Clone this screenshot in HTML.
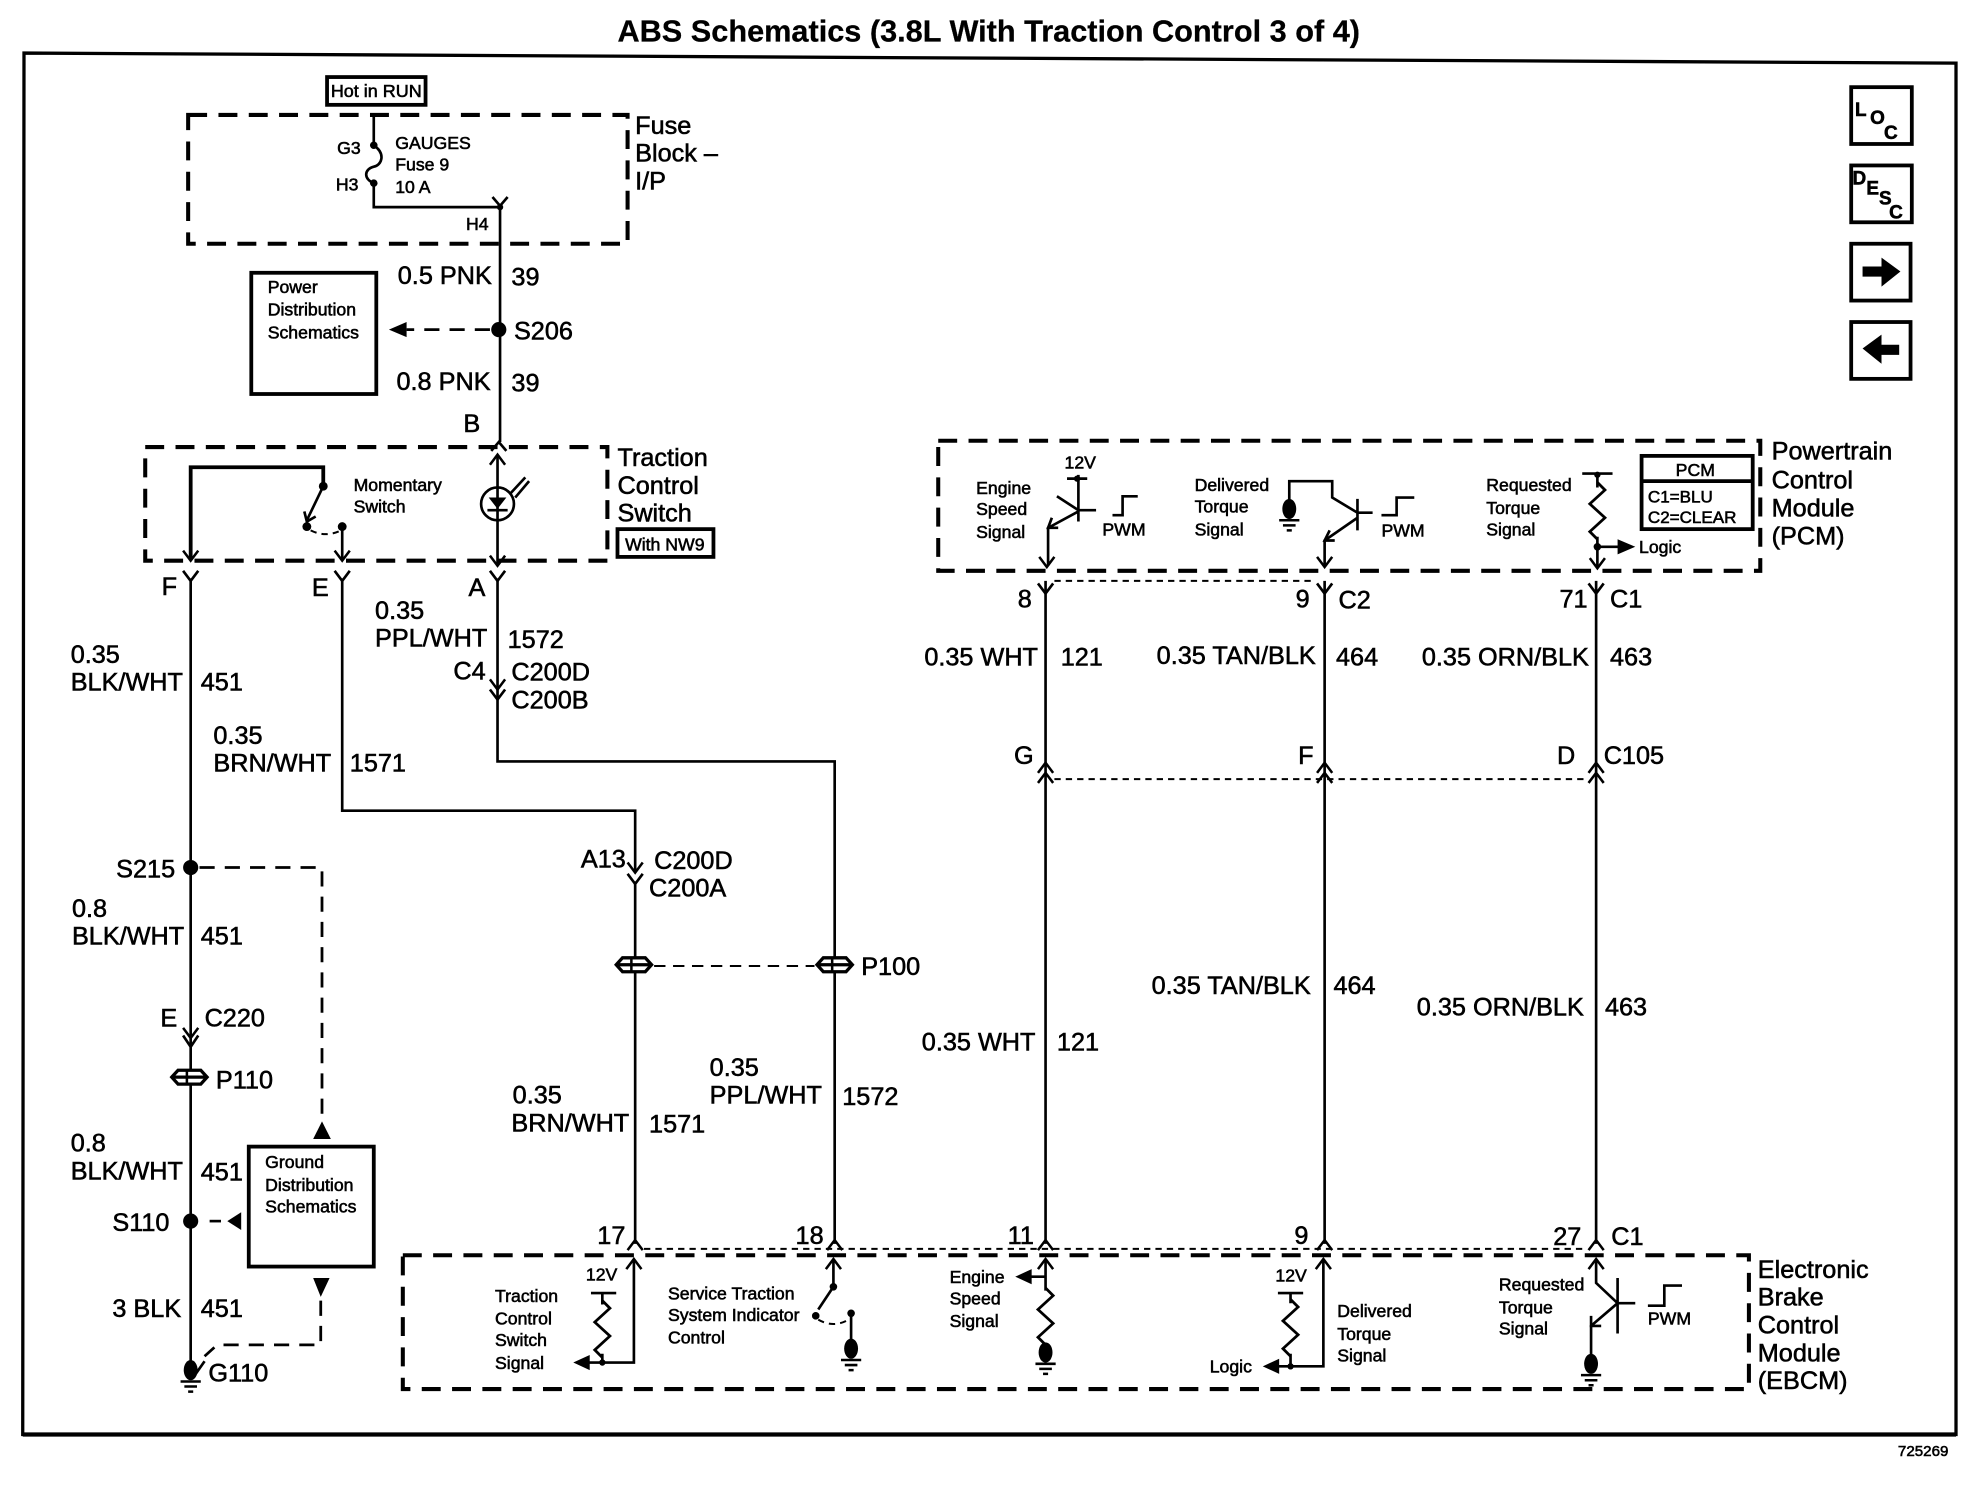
<!DOCTYPE html>
<html><head><meta charset="utf-8"><title>ABS Schematics</title>
<style>
html,body{margin:0;padding:0;background:#fff}
svg{display:block}
text{font-family:"Liberation Sans",sans-serif;fill:#000;stroke:#000;stroke-width:.45}
.l{font-size:20px}
.s{font-size:14px}
.t{font-size:24px;font-weight:bold;stroke-width:.2}
.b{font-size:15px;font-weight:bold}
.w{fill:none;stroke:#000;stroke-width:2.1}
.k{fill:none;stroke:#000;stroke-width:3}
.d{fill:none;stroke:#000;stroke-width:3.2;stroke-dasharray:15 9}
.d2{fill:none;stroke:#000;stroke-width:2.2;stroke-dasharray:12 8}
.f{fill:none;stroke:#000;stroke-width:1.6;stroke-dasharray:5 4}
.fill{fill:#000;stroke:none}
</style></head><body>
<svg xmlns="http://www.w3.org/2000/svg" width="1980" height="1504" viewBox="0 0 1568 1191">
<defs>
<path id="ad" d="M-6,-8L0,0L6,-8" fill="none" stroke="#000" stroke-width="2"/>
<path id="au" d="M-6,8L0,0L6,8" fill="none" stroke="#000" stroke-width="2"/>
<path id="res" d="M0,0L6,6L-6,17L6,28L-6,39L0,45" fill="none" stroke="#000" stroke-width="2.2"/>
<g id="gnd"><ellipse cx="0" cy="0" rx="5.5" ry="8" fill="#000"/><path d="M-8,9H8M-5,13H5M-2,17H2" stroke="#000" stroke-width="2" fill="none"/></g>
<g id="pc"><path d="M-14,0L-9,-5.5H9L14,0L9,5.5H-9Z" fill="#fff" stroke="#000" stroke-width="2.6"/><path d="M-13,0H13" stroke="#000" stroke-width="2.6"/><path d="M-2,-5V5" stroke="#000" stroke-width="2"/></g>
</defs>

<rect width="1568" height="1191" fill="#fff"/>
<text class="t" x="489" y="33" textLength="588" lengthAdjust="spacingAndGlyphs">ABS Schematics (3.8L With Traction Control 3 of 4)</text>
<path d="M19,42L1549,50V1136H18Z" fill="none" stroke="#000" stroke-width="2.6"/>
<path d="M18,1136H1549" stroke="#000" stroke-width="3.4"/>

<!-- nav buttons -->
<rect x="1466" y="69" width="48" height="45" class="k"/>
<text class="b" x="1469" y="92">L</text><text class="b" x="1481" y="98">O</text><text class="b" x="1492" y="110">C</text>
<rect x="1466" y="131" width="48" height="45" class="k"/>
<text class="b" x="1467" y="146">D</text><text class="b" x="1478" y="154">E</text><text class="b" x="1488" y="162">S</text><text class="b" x="1496" y="173">C</text>
<rect x="1466" y="193" width="47" height="45" class="k"/>
<path class="fill" d="M1475,211H1490V204L1505,215L1490,227V219H1475Z"/>
<rect x="1466" y="255" width="47" height="45" class="k"/>
<path class="fill" d="M1475,276L1490,265V273H1504V281H1490V288Z"/>

<!-- fuse block -->
<rect x="259" y="61" width="78" height="22" class="k"/>
<text class="s" x="262" y="77" textLength="72" lengthAdjust="spacingAndGlyphs">Hot in RUN</text>
<rect x="149" y="91" width="348" height="102" class="d"/>
<text class="l" x="503" y="106">Fuse</text><text class="l" x="503" y="128">Block –</text><text class="l" x="503" y="150">I/P</text>
<path class="w" d="M296,91V115C306,122 302,131 296,132C288,134 288,142 296,145V164H396"/>
<circle cx="296" cy="115" r="3"/><circle cx="296" cy="145" r="3"/>
<text class="s" x="267" y="122">G3</text><text class="s" x="266" y="151">H3</text>
<text class="s" x="313" y="118">GAUGES</text><text class="s" x="313" y="135">Fuse 9</text><text class="s" x="313" y="153">10 A</text>
<path class="w" d="M396,164V350"/>
<path class="w" d="M390,156L396,163L402,156"/>
<circle cx="396" cy="164" r="2.5"/>
<text class="s" x="369" y="182">H4</text>
<text class="l" x="315" y="225">0.5 PNK</text><text class="l" x="405" y="226">39</text>
<circle cx="395" cy="261" r="6"/>
<text class="l" x="407" y="269">S206</text>
<path class="d2" d="M388,261H322"/>
<path class="fill" d="M308,261L322,255V267Z"/>
<rect x="199" y="216" width="99" height="96" class="k"/>
<text class="s" x="212" y="232">Power</text><text class="s" x="212" y="250">Distribution</text><text class="s" x="212" y="268">Schematics</text>
<text class="l" x="314" y="309">0.8 PNK</text><text class="l" x="405" y="310">39</text>
<text class="l" x="367" y="342">B</text>
<path class="w" d="M389,357L395,350L401,357"/>

<!-- traction control switch -->
<rect x="115" y="354" width="366" height="90" class="d"/>
<text class="l" x="489" y="369">Traction</text><text class="l" x="489" y="391">Control</text><text class="l" x="489" y="413">Switch</text>
<rect x="489" y="419" width="76" height="22" class="k"/>
<text class="s" x="495" y="436">With NW9</text>
<path class="k" d="M151,443V370H256V385"/>
<use href="#ad" x="151" y="444"/>
<circle cx="256" cy="385" r="3.5"/>
<path class="w" d="M256,385L243,412"/><path class="w" d="M241,405L243,413L250,409"/>
<circle cx="243" cy="417" r="3.5"/><circle cx="271" cy="417" r="3.5"/>
<path class="f" d="M246,420Q258,426 270,420"/>
<path class="w" d="M271,417V443"/><use href="#ad" x="271" y="444"/>
<text class="s" x="280" y="389">Momentary</text><text class="s" x="280" y="406">Switch</text>
<path class="w" d="M394,360V448"/>
<use href="#au" x="394" y="360"/><use href="#ad" x="394" y="448"/>
<circle cx="394" cy="399" r="13" class="w"/>
<path class="fill" d="M387,394H401L394,403Z"/>
<path class="w" d="M386,404H402"/>
<path class="w" d="M404,391L416,378M408,394L419,381"/>

<path class="w" d="M145,452L151,460L157,452M265,452L271,460L277,452M388,452L394,460L400,452"/>
<text class="l" x="128" y="471">F</text><text class="l" x="247" y="472">E</text><text class="l" x="371" y="472">A</text>

<!-- left wire -->
<path class="w" d="M151,458V1085"/>
<text class="l" x="56" y="525">0.35</text><text class="l" x="56" y="547">BLK/WHT</text><text class="l" x="159" y="547">451</text>
<text class="l" x="92" y="695">S215</text>
<circle cx="151" cy="687" r="6"/>
<path class="d2" d="M158,687H255V882"/>
<path class="fill" d="M255,888L262,902H248Z"/>
<text class="l" x="57" y="726">0.8</text><text class="l" x="57" y="748">BLK/WHT</text><text class="l" x="159" y="748">451</text>
<text class="l" x="127" y="813">E</text><text class="l" x="162" y="813">C220</text>
<use href="#ad" x="151" y="822"/>
<path class="w" d="M145,820L151,829L157,820"/>
<use href="#pc" x="150" y="853"/>
<text class="l" x="171" y="862">P110</text>
<text class="l" x="56" y="912">0.8</text><text class="l" x="56" y="934">BLK/WHT</text><text class="l" x="159" y="935">451</text>
<rect x="197" y="908" width="99" height="95" class="k"/>
<text class="s" x="210" y="925">Ground</text><text class="s" x="210" y="943">Distribution</text><text class="s" x="210" y="960">Schematics</text>
<text class="l" x="89" y="975">S110</text>
<circle cx="151" cy="967" r="6"/>
<path class="w" d="M166,967H175"/>
<path class="fill" d="M180,967L191,960V974Z"/>
<text class="l" x="89" y="1043">3 BLK</text><text class="l" x="159" y="1043">451</text>
<path class="fill" d="M248,1012H261L254,1027Z"/>
<path class="d2" d="M254,1030V1065H172L162,1074"/>
<use href="#gnd" x="151" y="1085"/>
<path class="w" d="M155,1088L162,1078"/>
<text class="l" x="165" y="1094">G110</text>

<!-- E wire -->
<path class="w" d="M271,458V642H503V690"/>
<text class="l" x="169" y="589">0.35</text><text class="l" x="169" y="611">BRN/WHT</text><text class="l" x="277" y="611">1571</text>
<!-- A wire -->
<path class="w" d="M394,458V603H661V985"/>
<text class="l" x="297" y="490">0.35</text><text class="l" x="297" y="512">PPL/WHT</text><text class="l" x="402" y="513">1572</text>
<text class="l" x="359" y="538">C4</text><text class="l" x="405" y="539">C200D</text><text class="l" x="405" y="561">C200B</text>
<use href="#ad" x="394" y="546"/>
<path class="w" d="M388,546L394,554L400,546"/>
<text class="l" x="460" y="687">A13</text><text class="l" x="518" y="688">C200D</text><text class="l" x="514" y="710">C200A</text>
<use href="#ad" x="503" y="691"/>
<path class="w" d="M497,692L503,700L509,692"/>
<path class="w" d="M503,698V985"/>
<use href="#pc" x="502" y="764"/><use href="#pc" x="661" y="764"/>
<path class="f" d="M518,765H645" style="stroke-dasharray:9 6"/>
<text class="l" x="682" y="772">P100</text>
<text class="l" x="406" y="874">0.35</text><text class="l" x="405" y="896">BRN/WHT</text><text class="l" x="514" y="897">1571</text>
<text class="l" x="562" y="852">0.35</text><text class="l" x="562" y="874">PPL/WHT</text><text class="l" x="667" y="875">1572</text>

<!-- PCM -->
<rect x="743" y="349" width="651" height="103" class="d"/>
<text class="l" x="1403" y="364">Powertrain</text><text class="l" x="1403" y="387">Control</text><text class="l" x="1403" y="409">Module</text><text class="l" x="1403" y="431">(PCM)</text>
<rect x="1300" y="361" width="88" height="58" class="k"/>
<path class="k" d="M1300,381H1388"/>
<text class="s" x="1327" y="377">PCM</text>
<text class="s" x="1305" y="398" style="font-size:13.5px">C1=BLU</text>
<text class="s" x="1305" y="414" style="font-size:13.5px">C2=CLEAR</text>

<text class="s" x="843" y="371">12V</text>
<path class="w" d="M845,379H861M854,376V413M837,393L854,404H868M854,405L830,418V448"/>
<circle cx="853" cy="379" r="2.5"/>
<path class="w" d="M833,410L830,418L838,418"/>
<use href="#ad" x="829" y="449"/>
<path class="w" d="M881,408H889V393H901"/>
<text class="s" x="873" y="424">PWM</text>
<text class="s" x="773" y="391">Engine</text><text class="s" x="773" y="408">Speed</text><text class="s" x="773" y="426">Signal</text>

<text class="s" x="946" y="389">Delivered</text><text class="s" x="946" y="406">Torque</text><text class="s" x="946" y="424">Signal</text>
<path class="w" d="M1021,400V381H1055V394L1075,406H1087M1075,395V420M1075,410L1049,428V448"/>
<path class="w" d="M1053,420L1049,428L1057,428"/>
<use href="#ad" x="1049" y="449"/>
<use href="#gnd" x="1021" y="403"/>
<path class="w" d="M1094,408H1106V394H1120"/>
<text class="s" x="1094" y="425">PWM</text>

<text class="s" x="1177" y="389">Requested</text><text class="s" x="1177" y="407">Torque</text><text class="s" x="1177" y="424">Signal</text>
<path class="w" d="M1253,375H1277M1265,375V386M1265,425V449"/>
<circle cx="1265" cy="376" r="2.5"/>
<use href="#res" x="1265" y="382"/>
<circle cx="1265" cy="433" r="3"/>
<path class="w" d="M1265,433H1282"/><path class="fill" d="M1295,433L1281,427V439Z"/>
<text class="s" x="1298" y="438">Logic</text>
<use href="#ad" x="1265" y="450"/>

<!-- right wires -->
<path class="w" d="M828,460V985M1049,460V985M1264,460V985"/>
<path class="w" d="M822,462L828,470L834,462M1043,462L1049,470L1055,462M1258,462L1264,470L1270,462"/>
<path class="f" d="M835,460H1042"/>
<text class="l" x="806" y="481">8</text><text class="l" x="1026" y="481">9</text><text class="l" x="1060" y="482">C2</text>
<text class="l" x="1235" y="481">71</text><text class="l" x="1275" y="481">C1</text>
<text class="l" x="732" y="527">0.35 WHT</text><text class="l" x="840" y="527">121</text>
<text class="l" x="916" y="526">0.35 TAN/BLK</text><text class="l" x="1058" y="527">464</text>
<text class="l" x="1126" y="527">0.35 ORN/BLK</text><text class="l" x="1275" y="527">463</text>
<text class="l" x="803" y="605">G</text><text class="l" x="1028" y="605">F</text><text class="l" x="1233" y="605">D</text><text class="l" x="1270" y="605">C105</text>
<use href="#au" x="828" y="604"/><use href="#au" x="1049" y="604"/><use href="#au" x="1264" y="604"/>
<use href="#au" x="828" y="612"/><use href="#au" x="1049" y="612"/><use href="#au" x="1264" y="612"/>
<path class="f" d="M835,617H1258"/>
<text class="l" x="730" y="832">0.35 WHT</text><text class="l" x="837" y="832">121</text>
<text class="l" x="912" y="787">0.35 TAN/BLK</text><text class="l" x="1056" y="787">464</text>
<text class="l" x="1122" y="804">0.35 ORN/BLK</text><text class="l" x="1271" y="804">463</text>

<!-- pin row -->
<text class="l" x="473" y="985">17</text><text class="l" x="630" y="985">18</text><text class="l" x="798" y="985">11</text><text class="l" x="1025" y="985">9</text><text class="l" x="1230" y="986">27</text><text class="l" x="1276" y="986">C1</text>
<use href="#au" x="503" y="982"/><use href="#au" x="661" y="982"/><use href="#au" x="828" y="982"/><use href="#au" x="1049" y="982"/><use href="#au" x="1264" y="982"/>
<path class="f" d="M510,989H1257"/>

<!-- EBCM -->
<rect x="319" y="994" width="1066" height="106" class="d"/>
<text class="l" x="1392" y="1012">Electronic</text><text class="l" x="1392" y="1034">Brake</text><text class="l" x="1392" y="1056">Control</text><text class="l" x="1392" y="1078">Module</text><text class="l" x="1392" y="1100">(EBCM)</text>

<text class="s" x="464" y="1014">12V</text>
<path class="w" d="M468,1024H488M477,1024V1033M477,1072V1079M502,998V1079H465"/>
<use href="#res" x="477" y="1030"/>
<use href="#au" x="502" y="997"/>
<circle cx="477" cy="1079" r="2.5"/>
<path class="fill" d="M454,1079L467,1073V1085Z"/>
<text class="s" x="392" y="1031">Traction</text><text class="s" x="392" y="1049">Control</text><text class="s" x="392" y="1066">Switch</text><text class="s" x="392" y="1084">Signal</text>

<text class="s" x="529" y="1029">Service Traction</text><text class="s" x="529" y="1046">System Indicator</text><text class="s" x="529" y="1064">Control</text>
<use href="#au" x="660" y="997"/>
<path class="w" d="M660,997V1019L648,1037"/>
<circle cx="660" cy="1019" r="3"/><circle cx="646" cy="1042" r="3"/><circle cx="674" cy="1040" r="3"/>
<path class="f" d="M648,1045Q660,1052 672,1045"/>
<path class="w" d="M674,1040V1062"/>
<use href="#gnd" x="674" y="1068"/>

<text class="s" x="752" y="1016">Engine</text><text class="s" x="752" y="1033">Speed</text><text class="s" x="752" y="1051">Signal</text>
<use href="#au" x="828" y="997"/>
<path class="w" d="M828,997V1022M828,1011H815"/>
<path class="fill" d="M804,1011L817,1005V1017Z"/>
<use href="#res" x="828" y="1020"/>
<use href="#gnd" x="828" y="1071"/>

<text class="s" x="1010" y="1015">12V</text>
<path class="w" d="M1012,1024H1032M1022,1024V1032M1022,1072V1082M1048,998V1082H1010"/>
<use href="#res" x="1022" y="1029"/>
<use href="#au" x="1048" y="997"/>
<circle cx="1022" cy="1082" r="2.5"/>
<path class="fill" d="M1000,1082L1013,1076V1088Z"/>
<text class="s" x="958" y="1087">Logic</text>
<text class="s" x="1059" y="1043">Delivered</text><text class="s" x="1059" y="1061">Torque</text><text class="s" x="1059" y="1078">Signal</text>

<text class="s" x="1187" y="1022">Requested</text><text class="s" x="1187" y="1040">Torque</text><text class="s" x="1187" y="1057">Signal</text>
<use href="#au" x="1264" y="997"/>
<path class="w" d="M1264,997V1016L1281,1032H1295M1281,1012V1056M1281,1032L1260,1050V1075"/>
<path class="w" d="M1260,1042L1260,1050L1268,1050"/>
<use href="#gnd" x="1260" y="1080"/>
<path class="w" d="M1305,1034H1318V1018H1332"/>
<text class="s" x="1305" y="1049">PWM</text>

<text x="1503" y="1153" style="font-size:12px">725269</text>
</svg>
</body></html>
